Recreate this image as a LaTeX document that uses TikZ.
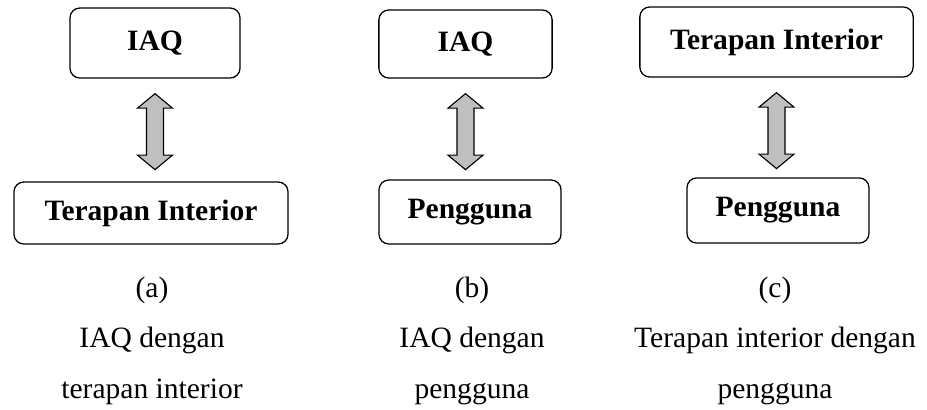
\documentclass[tikz,border=0pt]{standalone}
\usepackage{fontspec}
\setmainfont{Liberation Serif}
\usetikzlibrary{calc}

\begin{document}
\begin{tikzpicture}[x=0.025cm, y=-0.025cm]
\tikzset{box style/.style={shape=rectangle, rounded corners=7pt, draw=black, line width=0.9pt,
                           font=\fontsize{21}{25}\selectfont\bfseries, inner sep=0pt},
         arrow style/.style={draw=black, fill=black!25, line width=0.8pt, line join=miter},
         caption style/.style={align=center, font=\fontsize{21}{35.6}\selectfont}}
\useasboundingbox (0,0) rectangle (927,409);

% (a)
\node[box style, minimum width=4.25cm, minimum height=1.75cm] at (155, 43)   (iaqA)   {IAQ};
\node[box style, minimum width=6.85cm, minimum height=1.55cm] at (151, 213)  (terA)   {Terapan Interior};
\node[caption style, anchor=base] at (152, 398) (capA) {(a)\\IAQ dengan\\terapan interior};

% (b)
\node[box style, minimum width=4.33cm, minimum height=1.7cm]  at (465.5, 44) (iaqB)   {IAQ};
\node[box style, minimum width=4.55cm, minimum height=1.6cm]  at (470, 212)  (penB)   {Pengguna};
\node[caption style, anchor=base] at (472, 398) (capB) {(b)\\IAQ dengan\\pengguna};

% (c)
\node[box style, minimum width=6.83cm, minimum height=1.75cm] at (776.5, 42) (terC)   {Terapan Interior};
\node[box style, minimum width=4.55cm, minimum height=1.63cm] at (778, 210.5) (penC)  {Pengguna};
\node[caption style, anchor=base] at (775, 398) (capC) {(c)\\Terapan interior dengan\\pengguna};

% block arrows between the boxes
\foreach \up/\down in {iaqA/terA, iaqB/penB, terC/penC}
    \draw[arrow style] ($(\up.south)+(0,15)$) -- ++(17.5,14.5) -- ++(-9,0) -- ++(0,47)
        -- ++(9,0) -- ++(-17.5,14.5) -- ++(-17.5,-14.5) -- ++(9,0) -- ++(0,-47)
        -- ++(-9,0) -- cycle;
\end{tikzpicture}
\end{document}
